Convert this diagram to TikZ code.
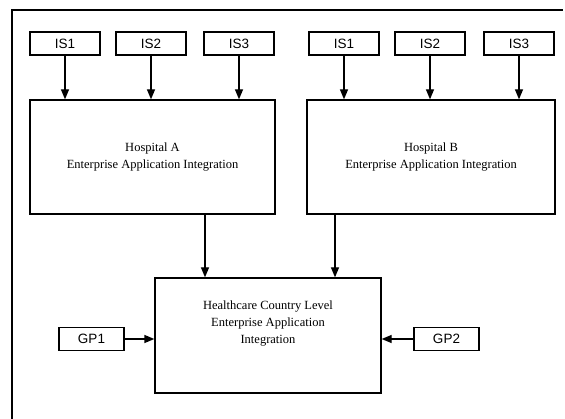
\documentclass[tikz,border=0pt]{standalone}
\usepackage{fontspec}
\setmainfont{Liberation Serif}
\newfontfamily\arialfont{Liberation Sans}
\usetikzlibrary{arrows.meta}
\begin{document}
\begin{tikzpicture}[x=1pt,y=-1pt,line width=1.3pt,
        src/.style = {draw, minimum width=70pt, minimum height=23pt, inner sep=0pt, font=\arialfont\fontsize{13.5}{15}\selectfont},
        eai/.style = {draw, align=center, inner sep=0pt, font=\fontsize{12.5}{17}\selectfont},
        arr/.style = {-{Triangle[length=10pt,width=8pt]}}]
        \useasboundingbox (0,0) rectangle (565,419);
        \draw (12,419) -- (12,10) -- (563,10);
        % hospital A
        \node[src] (a1) at (65,43.5) {IS1};
        \node[src] (a2) at (151,43.5) {IS2};
        \node[src] (a3) at (239,43.5) {IS3};
        \node[eai, minimum width=245pt, minimum height=114pt] (hA) at (152.5,157) {Hospital A\\Enterprise Application Integration};
        % hospital B
        \node[src] (b1) at (344,43.5) {IS1};
        \node[src] (b2) at (430,43.5) {IS2};
        \node[src] (b3) at (519,43.5) {IS3};
        \node[eai, minimum width=248pt, minimum height=114pt] (hB) at (431,157) {Hospital B\\Enterprise Application Integration};
        % country level
        \node[eai, minimum width=226pt, minimum height=115pt] (hc) at (268,335.5) {};
        \node[eai, draw=none] (hct) at (268,324) {Healthcare Country Level\\Enterprise Application\\Integration};
        \node[src, minimum width=65pt] (gp1) at (91.5,339) {GP1};
        \node[src, minimum width=65pt] (gp2) at (446.5,339) {GP2};
        \coordinate (ca) at (205,0);
        \coordinate (cb) at (335,0);
        \draw[arr] (a1) -> (a1 |- hA.north);
        \draw[arr] (a2) -> (a2 |- hA.north);
        \draw[arr] (a3) -> (a3 |- hA.north);
        \draw[arr] (b1) -> (b1 |- hB.north);
        \draw[arr] (b2) -> (b2 |- hB.north);
        \draw[arr] (b3) -> (b3 |- hB.north);
        \draw[arr] (hA.south -| ca) -> (hc.north -| ca);
        \draw[arr] (hB.south -| cb) -> (hc.north -| cb);
        \draw[arr] (gp1) -> (hc.west |- gp1);
        \draw[arr] (gp2) -> (hc.east |- gp2);
        \end{tikzpicture}
\end{document}
